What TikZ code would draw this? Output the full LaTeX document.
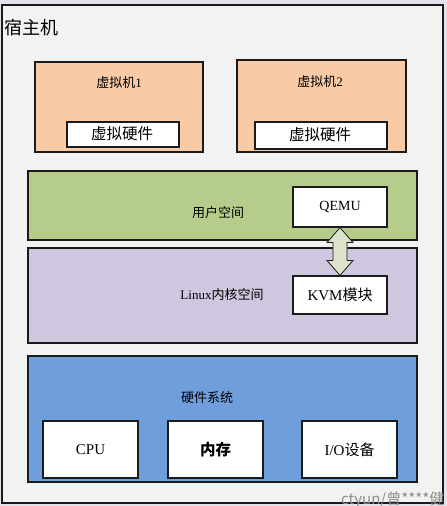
\documentclass[tikz,border=0pt]{standalone}
\usepackage{fontspec}
\setmainfont{Liberation Serif}
\newfontfamily\cjk{Noto Sans CJK SC}
\usetikzlibrary{arrows.meta,calc}
\definecolor{bgout}{HTML}{E2E3EA}
\definecolor{frame}{HTML}{F2F2F2}
\definecolor{vmfill}{HTML}{F8CBA6}
\definecolor{userfill}{HTML}{B5CC8A}
\definecolor{kernfill}{HTML}{CFC6DF}
\definecolor{hwfill}{HTML}{6E9EDB}
\definecolor{arrfill}{HTML}{DDE3CB}
\definecolor{edge}{HTML}{1A1A1A}
\tikzset{
  box/.style={draw=edge, line width=1.1pt, inner sep=0pt},
  lbl/.style={inner sep=0pt, text=black},
}
\begin{document}
\begin{tikzpicture}[x=1pt,y=-1pt]
\useasboundingbox (0,0) rectangle (447,506);
\fill[bgout] (0,0) rectangle (447,506);
\path[draw=edge, line width=1.2pt, fill=frame] (2,5) rectangle (443,503);
\node[lbl, anchor=west, font=\cjk\fontsize{18}{20}\selectfont] (title) at (4,28) {宿主机};

% VMs
\path[box, fill=vmfill] (35,62) rectangle (203,152);
\node[lbl, font=\fontsize{13}{15}\selectfont] (vm1) at (119,83) {{\cjk 虚拟机}1};
\path[box, fill=white] (67,122) rectangle (179,147);
\node[lbl, font=\cjk\fontsize{15.5}{17}\selectfont] (vh1) at (122,134) {虚拟硬件};

\path[box, fill=vmfill] (237,60) rectangle (406,152);
\node[lbl, font=\fontsize{13}{15}\selectfont] (vm2) at (320,82) {{\cjk 虚拟机}2};
\path[box, fill=white] (255,122) rectangle (387,149);
\node[lbl, font=\cjk\fontsize{15.5}{17}\selectfont] (vh2) at (320,135) {虚拟硬件};

% user space
\path[box, fill=userfill] (28,171) rectangle (417,240);
\node[lbl, font=\cjk\fontsize{13}{15}\selectfont] (us) at (218,213) {用户空间};
\node[box, fill=white, minimum width=94pt, minimum height=40pt, font=\fontsize{14}{16}\selectfont] (qemu) at (340,207) {QEMU};

% kernel
\path[box, fill=kernfill] (28,248) rectangle (417,343);
\node[lbl, font=\fontsize{13}{15}\selectfont] (ks) at (222,295) {Linux{\cjk 内核空间}};
\node[box, fill=white, minimum width=94pt, minimum height=38pt, font=\fontsize{15}{17}\selectfont] (kvm) at (340,295) {KVM{\cjk 模块}};

% double arrow
\path[draw=edge, line width=0.8pt, fill=arrfill]
  (qemu.south) -- ++(13,15) -- ++(-6,0) -- ($(kvm.north)+(7,-15)$) -- ++(6,0) -- (kvm.north)
  -- ++(-13,-15) -- ++(6,0) -- ($(qemu.south)+(-7,15)$) -- ++(-6,0) -- cycle;

% hardware
\path[box, fill=hwfill] (28,356) rectangle (417,482);
\node[lbl, font=\cjk\fontsize{13}{15}\selectfont] (hw) at (207,398) {硬件系统};
\node[box, fill=white, minimum width=95pt, minimum height=57pt, font=\fontsize{15}{17}\selectfont] (cpu) at (90.5,449.5) {CPU};
\node[box, fill=white, minimum width=95pt, minimum height=57pt, font=\cjk\fontsize{15.5}{17}\selectfont\bfseries] (mem) at (215.5,449.5) {内存};
\node[box, fill=white, minimum width=95pt, minimum height=57pt, font=\fontsize{15}{17}\selectfont] (io) at (349.5,449.5) {I/O{\cjk 设备}};

% watermark
\node[lbl, anchor=base west, text=gray!90, font=\cjk\fontsize{15}{17}\selectfont] (wm) at (341,504) {ctyun/曾****健};
\end{tikzpicture}
\end{document}
